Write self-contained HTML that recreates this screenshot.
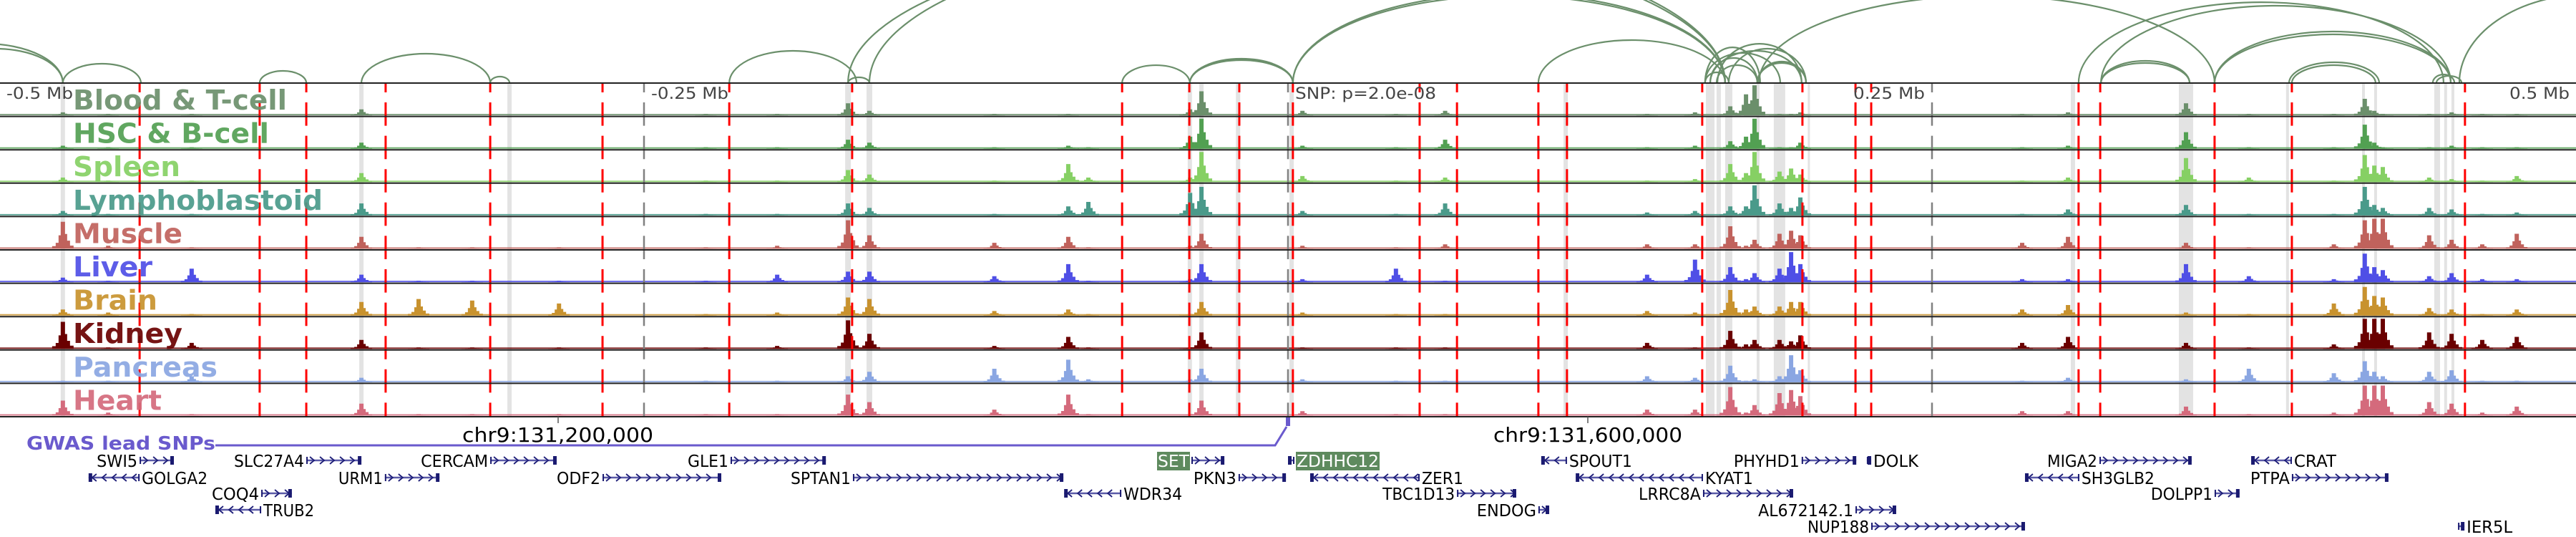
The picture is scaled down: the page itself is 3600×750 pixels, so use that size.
<!DOCTYPE html>
<html><head><meta charset="utf-8"><title>Genome browser chr9</title>
<style>
html,body{margin:0;padding:0;background:#fff;}
svg{display:block;font-family:"DejaVu Sans","Liberation Sans",sans-serif;}
</style></head>
<body>
<svg id="fig" xmlns="http://www.w3.org/2000/svg" width="3600" height="750" viewBox="0 0 3600 750">
  <g id="arcs"></g>
  <g id="bands"></g>
  <g id="tracks"></g>
  <g id="vlines"></g>
  <g id="borders"></g>
  <g id="labels"></g>
  <g id="header">
    <text x="9" y="138" font-size="22" fill="#444" textLength="93" lengthAdjust="spacingAndGlyphs">-0.5 Mb</text>
    <text x="910" y="138" font-size="22" fill="#444" textLength="108" lengthAdjust="spacingAndGlyphs">-0.25 Mb</text>
    <text x="1810" y="138" font-size="22" fill="#444" textLength="197" lengthAdjust="spacingAndGlyphs">SNP: p=2.0e-08</text>
    <text x="2590" y="138" font-size="22" fill="#444" textLength="100" lengthAdjust="spacingAndGlyphs">0.25 Mb</text>
    <text x="3507" y="138" font-size="22" fill="#444" textLength="84" lengthAdjust="spacingAndGlyphs">0.5 Mb</text>
  </g>
  <g id="coords">
    <line x1="780" y1="582" x2="780" y2="591" stroke="#555" stroke-width="1.5"/>
    <text x="646" y="617" font-size="28" fill="#000" textLength="267" lengthAdjust="spacingAndGlyphs">chr9:131,200,000</text>
    <line x1="2219" y1="582" x2="2219" y2="591" stroke="#555" stroke-width="1.5"/>
    <text x="2087" y="617" font-size="28" fill="#000" textLength="264" lengthAdjust="spacingAndGlyphs">chr9:131,600,000</text>
  </g>
  <g id="gwas">
    <text x="37" y="628" font-size="26" font-weight="bold" fill="#6a5acd" textLength="264" lengthAdjust="spacingAndGlyphs">GWAS lead SNPs</text>
    <path d="M301 622 L1782 622 L1798 596" fill="none" stroke="#6a5acd" stroke-width="3"/>
    <rect x="1797" y="583" width="6" height="12" fill="#6a5acd"/>
  </g>
  <g id="genes"></g>
</svg>
<script>
// ---- data ----
const trackNames = ["Blood & T-cell","HSC & B-cell","Spleen","Lymphoblastoid","Muscle","Liver","Brain","Kidney","Pancreas","Heart"];
const trackColors = ["#6b8f6b","#52a052","#86d064","#4a9a8a","#c0625c","#4f4fe6","#c8922e","#6a0000","#8aa6e2","#d46a7c"];
const trackLabelWidths = [299,274,150,349,153,111,118,153,202,124];
const peakPos = [-475.6,-458,-425.6,-359.7,-337.5,-316.7,-283,-226,-198.3,-170.8,-162.5,-114,-85.3,-77.5,-38,-33.6,5.6,41.9,61,139.4,158,171.7,177.8,181.1,190.8,195.3,198.9,285,302.8,348.6,373,406,418,421.7,425,443,451.7,463.6,477];
const hBlood    = [.1,.05,.05,.2,0,0,0,.05,.05,.4,.15,.05,.05,0,.2,.8,.15,.05,.15,.05,.1,.3,.7,1,.05,.05,.1,.05,.1,.4,.05,.05,.55,.15,.05,.05,.1,.05,.05];
const hHsc      = [.1,.05,.05,.2,0,0,0,.05,.05,.3,.2,.05,.1,.05,.4,1,.1,.05,.3,.05,.1,.25,.4,1,.05,.05,.2,.05,.1,.55,.05,.05,.8,.2,.05,.05,.1,.05,.05];
const hSpleen   = [.15,.05,.05,.3,0,0,0,.05,.05,.4,.25,.05,.6,.15,.15,1,.2,.05,.15,.05,.1,.6,.3,1,.35,.45,.25,.05,.15,.8,.15,.05,.9,.55,.5,.15,.1,.05,.2];
const hLymph    = [.15,.05,.05,.4,0,0,0,.05,.05,.4,.25,.05,.3,.45,.75,.95,.15,.05,.4,.1,.15,.3,.3,1,.4,.25,.6,.05,.2,.35,.05,.05,.95,.35,.25,.25,.2,.05,.1];
const hMuscle   = [.9,.1,.05,.4,.05,.05,.05,.05,.1,.95,.45,.2,.4,.05,.1,.5,.1,.05,.15,.15,.15,.75,.1,.3,.5,.6,.45,.2,.4,.2,.05,.15,.95,1,1,.45,.3,.15,.5];
const hLiver    = [.15,.05,.45,.25,.05,.05,.05,.05,.25,.35,.35,.2,.6,.05,.1,.6,.1,.45,.05,.25,.75,.5,.1,.3,.45,1,.6,.1,.1,.6,.2,.1,.95,.5,.4,.2,.3,.1,.1];
const hBrain    = [.2,.1,.05,.45,.55,.5,.4,.05,.1,.6,.55,.15,.2,.05,.05,.45,.1,.05,.05,.15,.1,.85,.2,.3,.3,.45,.45,.2,.35,.1,.05,.4,.95,.65,.6,.25,.2,.05,.2];
const hKidney   = [.9,.05,.2,.3,.05,.05,.05,.05,.1,.95,.5,.1,.4,.05,.05,.55,.05,.05,.05,.2,.05,.6,.15,.3,.3,.25,.45,.2,.4,.2,.05,.15,1,1,1,.55,.5,.3,.4];
const hPancreas = [.05,.05,.2,.15,0,0,0,.05,.05,.2,.35,.45,.75,.1,.1,.45,.1,.05,.05,.2,.15,.55,.05,.1,.2,.9,.4,.05,.15,.1,.45,.3,.7,.35,.2,.35,.4,.05,.05];
const hHeart    = [.5,.1,.05,.4,.05,.05,.05,.05,.05,.7,.45,.2,.7,.05,.05,.5,.15,.05,.05,.2,.2,.95,.1,.35,.75,.85,.65,.15,.15,.3,.05,.1,1,1,1,.45,.4,.1,.3];
const trackHeights = [hBlood,hHsc,hSpleen,hLymph,hMuscle,hLiver,hBrain,hKidney,hPancreas,hHeart];

const snpLinePos = [-445.8,-399.2,-381.1,-350.3,-309.7,-266.1,-216.9,-169.2,-64.4,-38.3,-18.9,1.9,51.1,65.6,97.2,108.3,160.8,199.7,220.3,226.4,306.9,315.3,359.7,389.7,456.9];
const bandPos = [-475.6,-359.7,-302.2,-170.8,-162.5,-38.1,-33.6,-19.4,1.4,107.8,163.9,167.2,171.1,182.5,190.8,202.2,304.7,348.6,388,417.5,422.2,446.1,449.4,452.2];
const bandW   = [6,6,6,8,8,6,6,6,6,6,12,6,10,4,16,3,6,20,4,4,4,8,4,4];
const axisPos = [-250,0,250];

const arcStart = [-536.1,-527.8,-475.6,-399.2,-359.7,-309.7,-216.9,-170.8,-64.4,-38.1,-38.1,1.9,1.9,-170.8,-162.5,97.2,161.9,161.9,163.9,166.7,171.1,182.2,182.2,166.4,161.9,163.9,182.8,306.9,315.6,315.6,315.6,359.7,359.7,388.6,389.7,444.4,445.8,454.7];
const arcEnd   = [-475.6,-475.6,-445.3,-381.1,-309.7,-302.2,-167.5,-162.5,-38.1,1.9,1.9,169.7,169.7,169.7,169.7,169.7,183.3,191.1,199.4,199.4,201.1,201.1,201.1,182.2,171.1,182.2,359.7,448.6,451.4,350,350,451.4,451.4,423.6,422.2,452.8,455.6,555.6];
const arcHeight= [55,48,27,17,41,9,45,8,25,34,32,125,122,201,205,60,50,42,45,55,48,30,28,25,15,35,122,113,108,31,28,72,68,29,25,12,10,124];

const geneNames  = ["SWI5","SLC27A4","CERCAM","GLE1","SET","ZDHHC12","SPOUT1","PHYHD1","DOLK","MIGA2","CRAT","GOLGA2","URM1","ODF2","SPTAN1","PKN3","ZER1","KYAT1","SH3GLB2","PTPA","COQ4","WDR34","TBC1D13","LRRC8A","DOLPP1","TRUB2","ENDOG","AL672142.1","NUP188","IER5L"];
const geneStart  = [-445.8,-381.1,-309.7,-216.4,-37.5,0,98.3,199.4,224.7,315,373.9,-465.6,-350.6,-266.1,-168.9,-19.2,8.6,111.7,286.1,389.7,-398.6,-86.9,65.6,161.1,359.7,-416.4,97.2,220.3,226.4,454.2];
const geneEnd    = [-432.5,-359.7,-283.9,-179.4,-24.7,2.5,108.3,220.6,226.4,350.8,389.7,-445.8,-329.4,-220,-87.2,-0.8,51.1,161.1,307.2,427.2,-386.7,-64.7,88.6,196.1,369.4,-398.6,101.4,236.1,286.1,456.7];
const geneStrand = [1,1,1,1,1,-1,-1,1,1,1,-1,-1,1,1,1,1,-1,-1,-1,1,1,-1,1,1,1,-1,1,1,1,1];
const geneRow    = [0,0,0,0,0,0,0,0,0,0,0,1,1,1,1,1,1,1,1,1,2,2,2,2,2,3,3,3,4,4];
const geneLabelW = [57,98,94,57,44,115,88,92,63,70,59,92,62,61,84,60,58,67,102,55,66,82,101,87,86,71,83,133,86,64];
const geneLabelRight = [0,0,0,0,0,1,1,0,1,0,1,1,0,0,0,0,1,1,1,0,0,1,0,0,0,1,0,0,0,1];
const geneHighlight = ["SET","ZDHHC12"];

// ---- scales ----
const NS = "http://www.w3.org/2000/svg";
const TOP = 116, ROWH = 46.6, NROW = 10, BOTTOM = TOP + ROWH*NROW;
function xScale(kb){ return (kb + 500) * 3.6; }
function rowBase(i){ return TOP + ROWH*(i+1) - 1.5; }
function hScale(f){ return f * 42; }
const geneRowY = [643,667,689,712,735];
function mk(tag, attrs, parent){
  const el = document.createElementNS(NS, tag);
  for (const k in attrs) el.setAttribute(k, attrs[k]);
  parent.appendChild(el);
  return el;
}

// bands
const gBands = document.getElementById("bands");
bandPos.forEach((p,i)=>{
  const r = mk("rect",{x:xScale(p)-bandW[i]/2,y:TOP,width:bandW[i],height:BOTTOM-TOP,fill:"#e3e3e3"},gBands);
  
  
});

// tracks
const gTracks = document.getElementById("tracks");
trackNames.forEach((name,t)=>{
  const g = mk("g",{},gTracks);
  
  
  const base = rowBase(t);
  const col = trackColors[t];
  const bl = mk("rect",{x:0,y:base-2,width:3600,height:2,fill:col,"fill-opacity":0.85},g);
  
  
  const vals = trackHeights[t];
  peakPos.forEach((p,i)=>{
    const v = vals[i];
    if (v <= 0) return;
    const cx = xScale(p), h = hScale(v);
    let d = "M"+(cx-15)+" "+base+
      " V"+(base-h*0.1)+" H"+(cx-10)+" V"+(base-h*0.22)+" H"+(cx-6)+" V"+(base-h*0.5)+" H"+(cx-3)+" V"+(base-h)+
      " H"+(cx+3)+" V"+(base-h*0.55)+" H"+(cx+6)+" V"+(base-h*0.3)+" H"+(cx+10)+" V"+(base-h*0.12)+" H"+(cx+15)+" V"+base+" Z";
    const pk = mk("path",{d:d,fill:col},g);
    
    
  });
});

// vertical SNP lines
const gV = document.getElementById("vlines");
axisPos.forEach(p=>{
  const l = mk("line",{x1:xScale(p),y1:TOP,x2:xScale(p),y2:BOTTOM,stroke:"#808080","stroke-width":2.5,"stroke-dasharray":"13 14 19.6 0"},gV);
  
  
});
snpLinePos.forEach(p=>{
  const l = mk("line",{x1:xScale(p),y1:TOP,x2:xScale(p),y2:BOTTOM,stroke:"#ff0000","stroke-width":3,"stroke-dasharray":"13 14 19.6 0"},gV);
  
  
});

// borders
const gB = document.getElementById("borders");
for (let i=0;i<=NROW;i++){
  const y = TOP + ROWH*i;
  const l = mk("line",{x1:0,y1:y,x2:3600,y2:y,stroke:"#222","stroke-width":2},gB);
  
  
}

// labels
const gL = document.getElementById("labels");
trackNames.forEach((name,t)=>{
  const tx = mk("text",{x:102,y:TOP+ROWH*t+37,"font-size":38,"font-weight":"bold",fill:trackColors[t],"fill-opacity":0.92,textLength:trackLabelWidths[t],lengthAdjust:"spacingAndGlyphs"},gL);
  tx.textContent = name;
  
  
});

// arcs
const gA = document.getElementById("arcs");
arcStart.forEach((s,i)=>{
  const x1 = xScale(s), x2 = xScale(arcEnd[i]);
  const rx = (x2-x1)/2, ry = arcHeight[i];
  const a = mk("path",{d:"M"+x1+" "+TOP+" A"+rx+" "+ry+" 0 0 1 "+x2+" "+TOP,fill:"none",stroke:"#6b8f6b","stroke-width":2.2},gA);
  
  
});

// genes
const gG = document.getElementById("genes");
geneNames.forEach((n,i)=>{
  const g = mk("g",{},gG);
  
  
  const y = geneRowY[geneRow[i]];
  const x1 = xScale(geneStart[i]), x2 = xScale(geneEnd[i]);
  const ln = mk("line",{x1:x1,y1:y,x2:x2,y2:y,stroke:"#5a5aa8","stroke-width":2.5},g);
  
  
  let d = "";
  const dir = geneStrand[i];
  for (let x = x1+8; x < x2-4; x += 14){
    d += "M"+(x-3*dir)+" "+(y-5)+" L"+(x+3*dir)+" "+y+" L"+(x-3*dir)+" "+(y+5)+" ";
  }
  if (d){
    const ch = mk("path",{d:d,fill:"none",stroke:"#1e1e78","stroke-width":1.8},g);
    
    
  }
  const ex = mk("rect",{x:(dir>0? x2-5 : x1),y:y-6,width:5,height:12,fill:"#1a1a70"},g);
  
  
  const tick = mk("rect",{x:(dir>0? x1 : x2-2),y:y-5,width:2,height:10,fill:"#1a1a70"},g);
  
  
  const w = geneLabelW[i];
  const lx = geneLabelRight[i] ? x2+3 : x1-3-w;
  if (geneHighlight.indexOf(n) >= 0){
    const bx = mk("rect",{x:lx-1,y:y-12,width:w+2,height:26,fill:"#5e8a5e"},g);
    
    
  }
  const tx = mk("text",{x:lx,y:y+9,"font-size":23,fill:(geneHighlight.indexOf(n)>=0?"#fff":"#000"),textLength:w,lengthAdjust:"spacingAndGlyphs"},g);
  tx.textContent = n;
  
  
});
</script>
</body></html>
